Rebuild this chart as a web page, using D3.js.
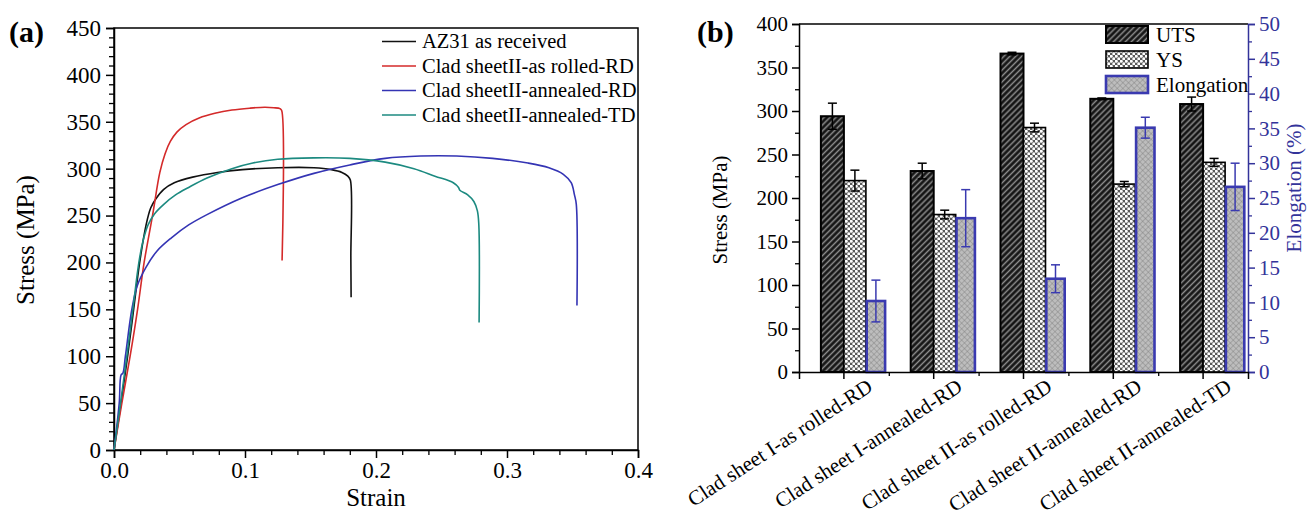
<!DOCTYPE html>
<html>
<head>
<meta charset="utf-8">
<script src="https://cdn.jsdelivr.net/npm/d3@7"></script>
<style>
  body { margin: 0; background: #fff; }
  text { font-family: "Liberation Serif", "Times New Roman", serif; fill: #000; }
</style>
</head>
<body>
<svg id="chart" width="1307" height="514"></svg>
<script>
// ---------- (a) tensile curves: [strain, stress MPa] ----------
const az31AsReceived = [
  [0, 0], [0.0054, 50], [0.0104, 100], [0.015, 150], [0.0196, 200], [0.0245, 240],
  [0.028, 258], [0.032, 268], [0.038, 278], [0.046, 285], [0.060, 291], [0.079, 296],
  [0.098, 299], [0.125, 301], [0.1526, 301], [0.166, 299], [0.174, 296], [0.1785, 292],
  [0.1804, 288], [0.1808, 205], [0.181, 163]
];
const sheet2RolledRD = [
  [0, 0], [0.006, 50], [0.0123, 100], [0.018, 150], [0.023, 200], [0.0294, 250],
  [0.035, 296], [0.039, 316], [0.043, 329], [0.048, 339], [0.055, 347], [0.065, 354],
  [0.077, 359], [0.090, 362.5], [0.1035, 364.5], [0.115, 365.5], [0.122, 365],
  [0.1267, 364], [0.128, 362], [0.1283, 202]
];
const sheet2AnnealedRD = [
  [0, 0], [0.004, 50], [0.0054, 80], [0.0068, 82], [0.0087, 100], [0.0136, 150],
  [0.0177, 175], [0.0245, 195], [0.0327, 212], [0.0436, 226], [0.057, 240], [0.071, 251],
  [0.098, 269], [0.125, 283], [0.1526, 295], [0.180, 304], [0.207, 311], [0.234, 313.5],
  [0.2616, 313.5], [0.289, 311], [0.316, 306], [0.332, 301], [0.343, 294], [0.349, 285],
  [0.3515, 272], [0.3529, 262], [0.3534, 154]
];
const sheet2AnnealedTD = [
  [0, 0], [0.005, 50], [0.0098, 100], [0.0144, 150], [0.019, 200], [0.022, 222],
  [0.026, 240], [0.031, 252], [0.038, 262], [0.047, 272], [0.057, 280], [0.071, 290],
  [0.090, 300], [0.106, 306], [0.125, 310], [0.1526, 311.5], [0.180, 311], [0.207, 307],
  [0.229, 300], [0.245, 292], [0.259, 285], [0.263, 280], [0.264, 277], [0.270, 272],
  [0.2747, 265], [0.2774, 255], [0.2785, 240], [0.2787, 136]
];
const curveNames = ["AZ31 as received", "Clad sheetII-as rolled-RD",
                    "Clad sheetII-annealed-RD", "Clad sheetII-annealed-TD"];
const curveColors = ["#111111", "#d42a2a", "#3434b4", "#1c8a80"];
const strainTicks = [0.0, 0.1, 0.2, 0.3, 0.4];
const stressTicksA = [0, 50, 100, 150, 200, 250, 300, 350, 400, 450];

// ---------- (b) mechanical properties ----------
const categories = ["Clad sheet I-as rolled-RD", "Clad sheet I-annealed-RD",
                    "Clad sheet II-as rolled-RD", "Clad sheet II-annealed-RD",
                    "Clad sheet II-annealed-TD"];
const utsValues = [294, 231, 366, 314, 308];
const utsErrors = [15, 9, 1.5, 1, 8];
const ysValues = [220, 181, 281, 216, 241];
const ysErrors = [12, 5, 5, 3, 4.5];
const elongValues = [10.2, 22.1, 13.4, 35.1, 26.6];
const elongErrors = [3, 4.1, 2, 1.5, 3.4];
const stressTicksB = [0, 50, 100, 150, 200, 250, 300, 350, 400];
const elongTicks = [0, 5, 10, 15, 20, 25, 30, 35, 40, 45, 50];
const seriesNames = ["UTS", "YS", "Elongation"];

const svg = d3.select("#chart");
const blueAxis = "#33339a";
const blueBar = "#3a3ab0";

// ---------- fill patterns ----------
const defs = svg.append("defs");
const pStripe = defs.append("pattern").attr("id", "stripe")
  .attr("patternUnits", "userSpaceOnUse").attr("width", 4.2).attr("height", 4.2)
  .attr("patternTransform", "rotate(45)");
pStripe.append("rect").attr("width", 4.2).attr("height", 4.2).attr("fill", "#141414");
pStripe.append("line").attr("x1", 2.1).attr("x2", 2.1).attr("y1", 0).attr("y2", 4.2)
  .attr("stroke", "#8c8c8c").attr("stroke-width", 1.5);

const pDots = defs.append("pattern").attr("id", "dots")
  .attr("patternUnits", "userSpaceOnUse").attr("width", 5).attr("height", 5);
pDots.append("rect").attr("width", 5).attr("height", 5).attr("fill", "#5a5a5a");
[[1.25, 1.25], [3.75, 3.75]].forEach(([cx, cy]) =>
  pDots.append("circle").attr("cx", cx).attr("cy", cy).attr("r", 1.5).attr("fill", "#fff"));

const pCross = defs.append("pattern").attr("id", "cross")
  .attr("patternUnits", "userSpaceOnUse").attr("width", 4).attr("height", 4)
  .attr("patternTransform", "rotate(45)");
pCross.append("rect").attr("width", 4).attr("height", 4).attr("fill", "#bdbdbd");
pCross.append("line").attr("x1", 0).attr("x2", 4).attr("y1", 0).attr("y2", 0)
  .attr("stroke", "#7a7a7a").attr("stroke-width", 0.8);
pCross.append("line").attr("x1", 0).attr("x2", 0).attr("y1", 0).attr("y2", 4)
  .attr("stroke", "#7a7a7a").attr("stroke-width", 0.8);

// ================= Panel (a) =================
const A = { left: 114, right: 638, top: 28, bottom: 450 };
const xA = d3.scaleLinear().domain([0, 0.4]).range([A.left, A.right]);
const yA = d3.scaleLinear().domain([0, 450]).range([A.bottom, A.top]);

const gA = svg.append("g");
gA.append("rect").attr("x", A.left).attr("y", A.top)
  .attr("width", A.right - A.left).attr("height", A.bottom - A.top)
  .attr("fill", "none").attr("stroke", "#000").attr("stroke-width", 1.5);

// minor ticks
gA.append("g").attr("transform", `translate(${A.left},0)`)
  .call(d3.axisLeft(yA).tickValues(d3.range(0, 451, 10).filter(v => v % 50 !== 0))
    .tickSize(5).tickFormat(""))
  .call(g => g.select(".domain").remove())
  .selectAll("line").attr("stroke-width", 1.3);
gA.append("g").attr("transform", `translate(0,${A.bottom})`)
  .call(d3.axisBottom(xA).tickValues(d3.range(1, 20).filter(i => i % 5 !== 0).map(i => i * 0.02))
    .tickSize(5).tickFormat(""))
  .call(g => g.select(".domain").remove())
  .selectAll("line").attr("stroke-width", 1.3);

// major ticks + labels
const axYA = gA.append("g").attr("transform", `translate(${A.left},0)`)
  .call(d3.axisLeft(yA).tickValues(stressTicksA).tickSize(8).tickPadding(5));
axYA.select(".domain").attr("stroke-width", 1.5);
axYA.selectAll("line").attr("stroke-width", 1.5);
axYA.selectAll("text").style("font-size", "23px").attr("font-family", null);

const axXA = gA.append("g").attr("transform", `translate(0,${A.bottom})`)
  .call(d3.axisBottom(xA).tickValues(strainTicks).tickSize(8).tickPadding(4)
    .tickFormat(d3.format(".1f")));
axXA.select(".domain").attr("stroke-width", 1.5);
axXA.selectAll("line").attr("stroke-width", 1.5);
axXA.selectAll("text").style("font-size", "23px").attr("font-family", null);

// curves
const lineA = d3.line().x(d => xA(d[0])).y(d => yA(d[1])).curve(d3.curveCatmullRom.alpha(0.5));
const curves = [az31AsReceived, sheet2RolledRD, sheet2AnnealedRD, sheet2AnnealedTD];
curves.forEach((c, i) => {
  gA.append("path").datum(c).attr("d", lineA)
    .attr("fill", "none").attr("stroke", curveColors[i]).attr("stroke-width", 1.6)
    .attr("stroke-linejoin", "round");
});

// legend
const legA = gA.append("g");
curveNames.forEach((n, i) => {
  const y = 41.5 + i * 24.5;
  legA.append("line").attr("x1", 382).attr("x2", 416).attr("y1", y).attr("y2", y)
    .attr("stroke", curveColors[i]).attr("stroke-width", 1.6);
  legA.append("text").attr("x", 422).attr("y", y).attr("dy", "0.34em")
    .style("font-size", "20.5px").text(n);
});

// titles
svg.append("text").attr("x", 376).attr("y", 506).attr("text-anchor", "middle")
  .style("font-size", "25px").text("Strain");
svg.append("text").attr("transform", "translate(34,240) rotate(-90)")
  .attr("text-anchor", "middle").style("font-size", "25px").text("Stress (MPa)");
svg.append("text").attr("x", 9).attr("y", 42).style("font-size", "30px")
  .style("font-weight", "bold").text("(a)");

// ================= Panel (b) =================
const B = { left: 799, right: 1248, top: 24, bottom: 372 };
const xB = d3.scaleBand().domain(categories).range([B.left, B.right]).padding(0);
const yB = d3.scaleLinear().domain([0, 400]).range([B.bottom, B.top]);
const yE = d3.scaleLinear().domain([0, 50]).range([B.bottom, B.top]);
const center = c => xB(c) + xB.bandwidth() / 2;

const gB = svg.append("g");

// bar layout inside each category (offset from tick, width)
const barSlots = [
  { off: -23, w: 23 },
  { off: 0, w: 22 },
  { off: 22.8, w: 18.4 }
];

gB.selectAll(".uts").data(categories).join("rect")
  .attr("x", c => center(c) + barSlots[0].off).attr("width", barSlots[0].w)
  .attr("y", (c, i) => yB(utsValues[i])).attr("height", (c, i) => yB(0) - yB(utsValues[i]))
  .attr("fill", "url(#stripe)").attr("stroke", "#000").attr("stroke-width", 2);
gB.selectAll(".ys").data(categories).join("rect")
  .attr("x", c => center(c) + barSlots[1].off).attr("width", barSlots[1].w)
  .attr("y", (c, i) => yB(ysValues[i])).attr("height", (c, i) => yB(0) - yB(ysValues[i]))
  .attr("fill", "url(#dots)").attr("stroke", "#000").attr("stroke-width", 1.6);
gB.selectAll(".el").data(categories).join("rect")
  .attr("x", c => center(c) + barSlots[2].off).attr("width", barSlots[2].w)
  .attr("y", (c, i) => yE(elongValues[i])).attr("height", (c, i) => yE(0) - yE(elongValues[i]))
  .attr("fill", "url(#cross)").attr("stroke", blueBar).attr("stroke-width", 2.6);

// error bars
function errorBars(vals, errs, scale, slot, color) {
  const g = gB.append("g").attr("stroke", color).attr("stroke-width", 1.5);
  categories.forEach((c, i) => {
    const cx = center(c) + slot.off + slot.w / 2;
    const y1 = scale(vals[i] + errs[i]), y0 = scale(vals[i] - errs[i]);
    g.append("line").attr("x1", cx).attr("x2", cx).attr("y1", y1).attr("y2", y0);
    g.append("line").attr("x1", cx - 4.5).attr("x2", cx + 4.5).attr("y1", y1).attr("y2", y1);
    g.append("line").attr("x1", cx - 4.5).attr("x2", cx + 4.5).attr("y1", y0).attr("y2", y0);
  });
}
errorBars(utsValues, utsErrors, yB, barSlots[0], "#000");
errorBars(ysValues, ysErrors, yB, barSlots[1], "#000");
errorBars(elongValues, elongErrors, yE, barSlots[2], blueBar);

// top frame line
gB.append("line").attr("x1", B.left).attr("x2", B.right).attr("y1", B.top).attr("y2", B.top)
  .attr("stroke", "#000").attr("stroke-width", 1.5);

// left axis
gB.append("g").attr("transform", `translate(${B.left},0)`)
  .call(d3.axisLeft(yB).tickValues(d3.range(25, 400, 50)).tickSize(4).tickFormat(""))
  .call(g => g.select(".domain").remove())
  .selectAll("line").attr("stroke-width", 1.3);
const axYB = gB.append("g").attr("transform", `translate(${B.left},0)`)
  .call(d3.axisLeft(yB).tickValues(stressTicksB).tickSize(7).tickPadding(4));
axYB.select(".domain").attr("stroke-width", 1.5);
axYB.selectAll("line").attr("stroke-width", 1.5);
axYB.selectAll("text").style("font-size", "21px").attr("font-family", null);

// right axis (elongation)
gB.append("g").attr("transform", `translate(${B.right},0)`)
  .call(d3.axisRight(yE).tickValues(d3.range(2.5, 50, 5)).tickSize(4).tickFormat(""))
  .call(g => g.select(".domain").remove())
  .selectAll("line").attr("stroke", blueAxis).attr("stroke-width", 1.3);
const axYE = gB.append("g").attr("transform", `translate(${B.right},0)`)
  .call(d3.axisRight(yE).tickValues(elongTicks).tickSize(7).tickPadding(4));
axYE.select(".domain").attr("stroke", blueAxis).attr("stroke-width", 1.5);
axYE.selectAll("line").attr("stroke", blueAxis).attr("stroke-width", 1.5);
axYE.selectAll("text").style("font-size", "21px").style("fill", blueAxis).attr("font-family", null);

// bottom axis
gB.append("g").attr("transform", `translate(0,${B.bottom})`)
  .call(d3.axisBottom(d3.scaleLinear().domain([0, 5]).range([B.left, B.right]))
    .tickValues([1, 2, 3, 4]).tickSize(4).tickFormat(""))
  .call(g => g.select(".domain").remove())
  .selectAll("line").attr("stroke-width", 1.3);
const axXB = gB.append("g").attr("transform", `translate(0,${B.bottom})`)
  .call(d3.axisBottom(xB).tickSize(7).tickFormat(""));
axXB.select(".domain").attr("stroke-width", 1.5);
axXB.selectAll("line").attr("stroke-width", 1.5);

// rotated category labels
gB.selectAll(".cat").data(categories).join("text")
  .attr("transform", c => `translate(${center(c) + 30},${B.bottom + 18}) rotate(-33)`)
  .attr("text-anchor", "end").style("font-size", "21px").text(c => c);

// legend
const legFills = ["url(#stripe)", "url(#dots)", "url(#cross)"];
const legStrokes = ["#000", "#000", blueBar];
const legWidths = [2, 1.6, 2.6];
seriesNames.forEach((n, i) => {
  const y = 26 + i * 25;
  gB.append("rect").attr("x", 1106).attr("y", y).attr("width", 42).attr("height", 17)
    .attr("fill", legFills[i]).attr("stroke", legStrokes[i]).attr("stroke-width", legWidths[i]);
  gB.append("text").attr("x", 1156).attr("y", y + 16).style("font-size", "21px").text(n);
});

// titles
svg.append("text").attr("transform", "translate(727,210) rotate(-90)")
  .attr("text-anchor", "middle").style("font-size", "21px").text("Stress (MPa)");
svg.append("text").attr("transform", "translate(1301,188) rotate(-90)")
  .attr("text-anchor", "middle").style("font-size", "21px").style("fill", blueAxis)
  .text("Elongation (%)");
svg.append("text").attr("x", 697).attr("y", 42).style("font-size", "30px")
  .style("font-weight", "bold").text("(b)");
</script>
</body>
</html>
